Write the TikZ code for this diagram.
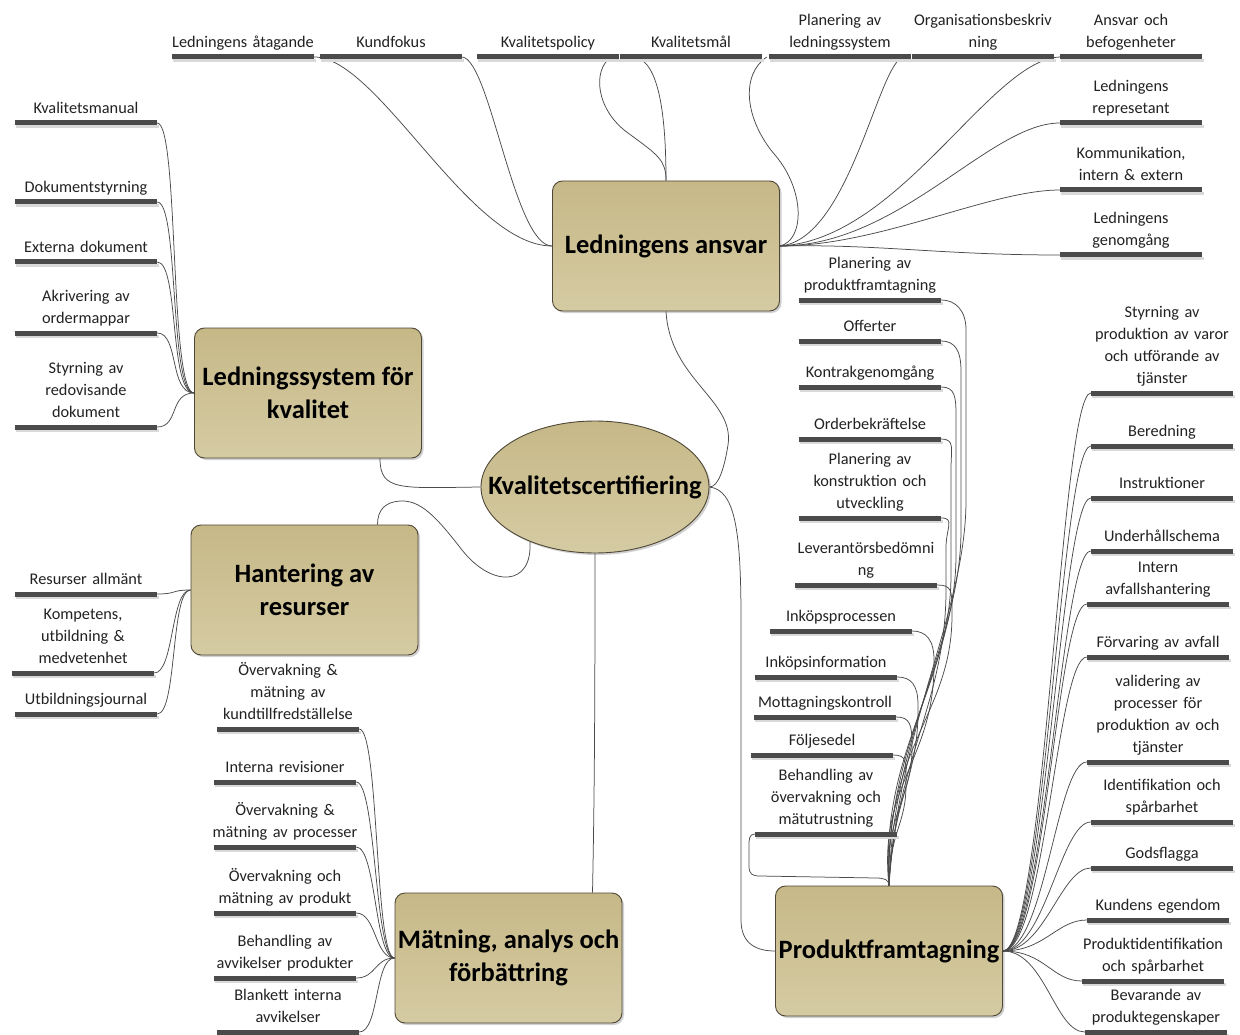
\documentclass[tikz,border=0pt]{standalone}
\usepackage{fontspec}
\setmainfont{Carlito}
\usetikzlibrary{calc,shapes.geometric,shadows}

\definecolor{boxtop}{HTML}{C6B887}
\definecolor{boxbot}{HTML}{D5CBA3}
\definecolor{boxline}{HTML}{4E4636}
\definecolor{barc}{HTML}{4B4B4B}
\definecolor{wirec}{HTML}{4A4A4A}
\definecolor{leaftext}{HTML}{222222}

\newcommand{\leaffont}{\fontsize{16.3}{22}\selectfont}
\newcommand{\topicfont}{\bfseries\fontsize{26.5}{33}\selectfont}
% keep a long line on one row, centred even if it is a little wider than its bar
\newcommand{\oneline}[1]{\makebox[0pt]{#1}}

\tikzset{
  topic/.style={draw=boxline, line width=0.9pt, rounded corners=10pt,
    top color=boxtop, bottom color=boxbot,
    minimum width=227pt, minimum height=130pt, inner sep=0pt,
    align=center, font=\topicfont,
    drop shadow={shadow xshift=2pt, shadow yshift=-2pt, fill=black!40, opacity=0.45}},
  hub/.style={ellipse, draw=boxline, line width=0.9pt,
    top color=boxtop, bottom color=boxbot,
    minimum width=228pt, minimum height=132pt, inner xsep=-40pt, inner ysep=0pt,
    font=\topicfont,
    drop shadow={shadow xshift=2pt, shadow yshift=-2pt, fill=black!40, opacity=0.45}},
  leaf/.style={anchor=south, text width=142pt, align=center,
    inner xsep=0pt, inner ysep=2.5pt, font=\leaffont, text=leaftext,
    execute at end node=\strut},
  bar/.style={line width=5pt, draw=barc},
  barshade/.style={line width=3pt, draw=black!15},
  wire/.style={draw=wirec, line width=0.75pt},
}

\begin{document}
\begin{tikzpicture}[x=1pt, y=-1pt]
\fill[white] (0,0) rectangle (1240,1035);
\useasboundingbox (0,0) rectangle (1240,1035);

% ---------------- main topics ----------------
\node[topic] (LA) at (666,246) {Ledningens ansvar};
\node[topic] (LS) at (308,393) {Ledningssystem för\\kvalitet};
\node[hub]   (KC) at (595,487) {Kvalitetscertifiering};
\node[topic] (HR) at (304.5,590) {Hantering av\\resurser};
\node[topic] (MA) at (508.5,958) {Mätning, analys och\\förbättring};
\node[topic] (PF) at (889,951) {Produktframtagning};

% ---------------- Ledningens ansvar ----------------
\node[leaf] (la1) at (243,57) {Ledningens åtagande};
\node[leaf] (la2) at (391,57) {Kundfokus};
\node[leaf] (la3) at (548,57) {Kvalitetspolicy};
\node[leaf] (la4) at (691,57) {Kvalitetsmål};
\node[leaf] (la5) at (840,57) {Planering av\\ledningssystem};
\node[leaf] (la6) at (983,57) {Organisationsbeskriv\\ning};
\node[leaf] (la7) at (1131,57) {Ansvar och\\befogenheter};
\node[leaf] (la8) at (1131,123) {Ledningens\\represetant};
\node[leaf] (la9) at (1131,190) {Kommunikation,\\intern \& extern};
\node[leaf] (la10) at (1131,255) {Ledningens\\genomgång};

% ---------------- Ledningssystem för kvalitet ----------------
\node[leaf] (ls1) at (86,123) {Kvalitetsmanual};
\node[leaf] (ls2) at (86,202) {Dokumentstyrning};
\node[leaf] (ls3) at (86,262) {Externa dokument};
\node[leaf] (ls4) at (86,333) {Akrivering av\\ordermappar};
\node[leaf] (ls5) at (86,427) {Styrning av\\redovisande\\dokument};

% ---------------- Hantering av resurser ----------------
\node[leaf] (hr1) at (86,594) {Resurser allmänt};
\node[leaf] (hr2) at (83,673) {Kompetens,\\utbildning \&\\medvetenhet};
\node[leaf] (hr3) at (86,714) {Utbildningsjournal};

% ---------------- Mätning, analys och förbättring ----------------
\node[leaf] (ma1) at (288,729) {Övervakning \&\\mätning av\\kundtillfredställelse};
\node[leaf] (ma2) at (285,782) {Interna revisioner};
\node[leaf] (ma3) at (285,847) {Övervakning \&\\\oneline{mätning av processer}};
\node[leaf] (ma4) at (285,913) {Övervakning och\\\oneline{mätning av produkt}};
\node[leaf] (ma5) at (285,978) {Behandling av\\\oneline{avvikelser produkter}};
\node[leaf] (ma6) at (288,1032) {Blankett interna\\avvikelser};

% ---------------- Produktframtagning, upper branch ----------------
\node[leaf] (pf1) at (870,300) {Planering av\\produktframtagning};
\node[leaf] (pf2) at (870,341) {Offerter};
\node[leaf] (pf3) at (870,387) {Kontrakgenomgång};
\node[leaf] (pf4) at (870,439) {Orderbekräftelse};
\node[leaf] (pf5) at (870,518) {Planering av\\konstruktion och\\utveckling};
\node[leaf] (pf6) at (866,585) {Leverantörsbedömni\\ng};
\node[leaf] (pf7) at (841,631) {Inköpsprocessen};
\node[leaf] (pf8) at (826,677) {Inköpsinformation};
\node[leaf] (pf9) at (825,717) {\oneline{Mottagningskontroll}};
\node[leaf] (pf10) at (822,755) {Följesedel};
\node[leaf] (pf11) at (826,834) {Behandling av\\övervakning och\\mätutrustning};

% ---------------- Produktframtagning, right branch ----------------
\node[leaf] (pr1) at (1162,393) {Styrning av\\\oneline{produktion av varor}\\och utförande av\\tjänster};
\node[leaf] (pr2) at (1162,446) {Beredning};
\node[leaf] (pr3) at (1162,498) {Instruktioner};
\node[leaf] (pr4) at (1162,551) {Underhållschema};
\node[leaf] (pr5) at (1158,604) {Intern\\avfallshantering};
\node[leaf] (pr6) at (1158,657) {Förvaring av avfall};
\node[leaf] (pr7) at (1158,762) {validering av\\processer för\\\oneline{produktion av och}\\tjänster};
\node[leaf] (pr8) at (1162,822) {Identifikation och\\spårbarhet};
\node[leaf] (pr9) at (1162,868) {Godsflagga};
\node[leaf] (pr10) at (1158,920) {Kundens egendom};
\node[leaf] (pr11) at (1153,981) {\oneline{Produktidentifikation}\\och spårbarhet};
\node[leaf] (pr12) at (1156,1032) {Bevarande av\\produktegenskaper};

% ================= connectors =================
% central hub to the main topics
\draw[wire] (LA.south) .. controls (670,380) and (735,400) .. (728,445)
            .. controls (724,470) and (718,487) .. (KC.east);
\draw[wire] (KC.east) .. controls (735,490) and (741,530) .. (741,620) -- (741,920)
            .. controls (741,945) and (758,951) .. (PF.west);
\draw[wire] (KC.south) .. controls +(0,150) and +(2,-100) .. ($(MA.north)+(84,0)$);
\draw[wire] (KC.west) .. controls +(-80,1) and +(0,33) .. ($(LS.south)+(72,0)$);
\draw[wire] (KC.220) .. controls +(3,45) and (492,588) .. (462,550)
            .. controls (435,515) and (420,500) .. (400,501)
            .. controls (385,502) and (377.5,510) .. ($(HR.north)+(73,0)$);

% Ledningens ansvar
\draw[wire] (la1.south east) .. controls +(64,0) and +(-83,0) .. (LA.west);
\draw[wire] (la2.south east) .. controls +(28,3) and +(-38,0) .. (LA.west);
\draw[wire] ($(la3.south east)+(-8,0)$) .. controls (592,70) and (596,110) .. (628,133)
            .. controls (658,155) and (666,160) .. (LA.north);
\draw[wire] ($(la4.south west)+(14,0)$) .. controls (660,60) and (666,120) .. (LA.north);
\draw[wire] ($(la5.south west)+(-2,0)$) .. controls (740,75) and (745,120) .. (775,155)
            .. controls (805,190) and (805,240) .. (LA.east);
\draw[wire] ($(la6.south west)+(-8,0)$) .. controls +(-25,3) and +(70,-6) .. (LA.east);
\draw[wire] (la7.south west) .. controls +(-70,3) and +(120,-6) .. (LA.east);
\draw[wire] (la8.south west) .. controls +(-70,0) and +(120,0) .. (LA.east);
\draw[wire] (la9.south west) .. controls +(-70,0) and +(100,0) .. (LA.east);
\draw[wire] (LA.east) .. controls +(100,-2) and +(-120,0) .. (la10.south west);

% Ledningssystem för kvalitet
\foreach \n in {ls1,ls2,ls3,ls4,ls5}
  \draw[wire] (\n.south east) .. controls +(22,0) and +(-25,0) .. (LS.west);

% Hantering av resurser
\foreach \n in {hr1,hr2,hr3}
  \draw[wire] (\n.south east) .. controls +(20,0) and +(-20,0) .. (HR.west);

% Mätning, analys och förbättring
\foreach \n in {ma1,ma2,ma3,ma4,ma5,ma6}
  \draw[wire] (\n.south east) .. controls +(20,0) and +(-20,0) .. (MA.west);

% Produktframtagning, right branch
\foreach \n in {pr1,pr2,pr3,pr4,pr5,pr6,pr7,pr8,pr9,pr10,pr11,pr12}
  \draw[wire] (PF.east) .. controls +(42,0) and +(-30,0) .. (\n.south west);

% Produktframtagning, upper branch: turn down on the right, run down, then swing in
% name / x of the run / run start / run end / first control y / second control
\foreach \n/\xv/\ys/\yb/\cy/\xe/\ye in {
    pf1/966/330/500/610/900/720,  pf2/961/371/530/640/893/730,
    pf3/956/417/555/665/886/740,  pf4/951/469/575/685/880/750,
    pf5/946/548/590/700/896/760,  pf6/952/610/615/715/884/745,
    pf7/934/660/665/760/878/785,  pf8/918/705/710/780/892/800,
    pf9/912/745/748/800/884/815,  pf10/906/782/785/825/890/830}
  \draw[wire] (\n.south east) .. controls +(14,0) and (\xv,{\ys-20}) .. (\xv,\ys)
              -- (\xv,\yb) .. controls (\xv,\cy) and (\xe,\ye) .. (PF.north);
\draw[wire] (pf11.south west) .. controls +(-6,0) and +(0,-6) .. (749,846) -- (749,866)
            .. controls +(0,8) and +(-8,0) .. (760,876) -- (876,878)
            .. controls +(8,0) and +(0,-6) .. (PF.north);

% ================= underline bars =================
\foreach \n in {la1,la2,la3,la4,la5,la6,la7,la8,la9,la10,
                ls1,ls2,ls3,ls4,ls5,hr1,hr2,hr3,
                ma1,ma2,ma3,ma4,ma5,ma6,
                pf1,pf2,pf3,pf4,pf5,pf6,pf7,pf8,pf9,pf10,pf11,
                pr1,pr2,pr3,pr4,pr5,pr6,pr7,pr8,pr9,pr10,pr11,pr12}{
  \draw[barshade] ([shift={(1.5,3.5)}]\n.south west) -- ([shift={(1.5,3.5)}]\n.south east);
  \draw[bar] (\n.south west) -- (\n.south east);
}
\end{tikzpicture}
\end{document}
